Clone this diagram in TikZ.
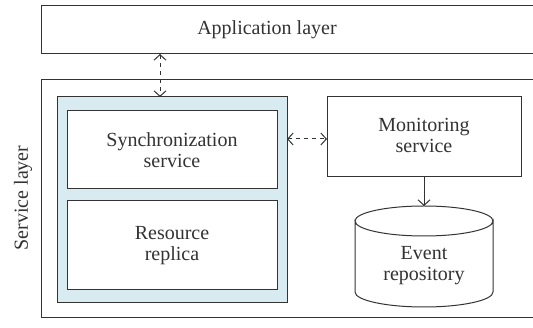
\documentclass[tikz,border=0pt]{standalone}
\usepackage{fontspec}
\setmainfont{Liberation Serif}
\usetikzlibrary{arrows.meta,calc}
\definecolor{linec}{HTML}{333333}
\definecolor{framefill}{HTML}{D8EBF1}
\tikzset{
  box/.style={draw=linec, line width=1pt, inner sep=0pt, outer sep=0pt, anchor=north west, fill=white},
  lbl/.style={text=linec, font=\fontsize{20}{21}\selectfont, align=center, inner sep=0pt},
  dasharrow/.style={draw=linec, line width=1pt, dash pattern=on 4pt off 4pt, {Straight Barb[length=5.5pt,width=12pt]}-{Straight Barb[length=5.5pt,width=12pt]}},
  solidarrow/.style={draw=linec, line width=1pt, -{Straight Barb[length=5.5pt,width=12pt]}}
}
\begin{document}
\begin{tikzpicture}[x=1pt,y=-1pt]
\useasboundingbox (0,0) rectangle (533,328);
\clip (0,0) rectangle (533,328);
% outer layers
\node[box, minimum width=540pt, minimum height=48pt] (app) at (41,6) {};
\node[lbl] (apptext) at (267,30) {Application layer};
\node[box, minimum width=540pt, minimum height=238pt] (svc) at (41,80) {};
\node[lbl, rotate=90] (svctext) at (23,198) {Service layer};
% replica frame
\node[box, fill=framefill, minimum width=230pt, minimum height=206pt] (frame) at (57,97) {};
\node[box, minimum width=210pt, minimum height=78pt] (sync) at (67,111) {};
\node[lbl] (synctext) at (sync.center) {Synchronization\\service};
\node[box, minimum width=210pt, minimum height=89pt] (res) at (67,201) {};
\node[lbl] (restext) at (res.center) {Resource\\replica};
% monitoring
\node[box, minimum width=194pt, minimum height=80pt] (mon) at (327,97) {};
\node[lbl] (montext) at (424,135) {Monitoring\\service};
% event repository cylinder
\node[inner sep=0pt, outer sep=0pt, anchor=north west, minimum width=138pt, minimum height=101pt] (repo) at (355,206) {};
\draw[linec, line width=1pt, fill=white]
  ($(repo.north west)+(0,15)$) arc[start angle=180, end angle=360, x radius=69pt, y radius=15pt]
  -- ($(repo.south east)+(0,-15)$) arc[start angle=0, end angle=-180, x radius=69pt, y radius=15pt]
  -- cycle;
\draw[linec, line width=1pt]
  ($(repo.north west)+(0,15)$) arc[start angle=180, end angle=0, x radius=69pt, y radius=15pt];
\node[lbl] (repotext) at (424,266) {Event\\repository};
% connectors
\coordinate (vx) at (160,0);
\draw[dasharrow] (app.south -| vx) -- (frame.north -| vx);
\draw[dasharrow] (frame.east |- 0,139) -- (mon.west |- 0,139);
\draw[solidarrow] (mon.south) -- (repo.north);
\end{tikzpicture}
\end{document}
